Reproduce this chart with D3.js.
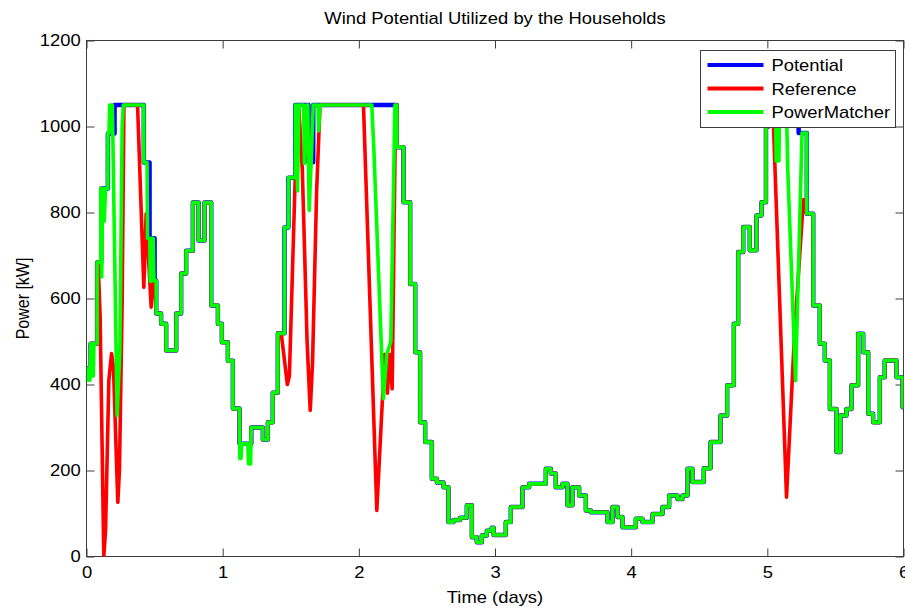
<!DOCTYPE html>
<html>
<head>
<meta charset="utf-8">
<script src="https://cdn.jsdelivr.net/npm/d3@7"></script>
<style>
  body { margin: 0; background: #fff; }
  text { font-family: "Liberation Sans", Arial, sans-serif; }
</style>
</head>
<body>
<div id="chart"></div>
<script>
// ---- data ----
const x_ticks = [0, 1, 2, 3, 4, 5, 6];
const y_ticks = [0, 200, 400, 600, 800, 1000, 1200];
const series_names = ["Potential", "Reference", "PowerMatcher"];
const series_colors = ["#0000ff", "#ff0000", "#00ff00"];

// wind potential: [time (days), kW], value held until next step
const potential_steps = [
  [0, 437], [0.03, 495], [0.078, 684], [0.108, 856], [0.157, 984], [0.206, 1050],
  [0.421, 916], [0.463, 740], [0.5, 642], [0.512, 565], [0.548, 541], [0.585, 479],
  [0.659, 565], [0.695, 658], [0.732, 711], [0.781, 823], [0.823, 735], [0.867, 823],
  [0.916, 584], [0.965, 541], [0.994, 498], [1.038, 455], [1.075, 344], [1.124, 262],
  [1.21, 300], [1.295, 272], [1.332, 312], [1.368, 381], [1.405, 519], [1.454, 765],
  [1.483, 881], [1.533, 1050], [1.63, 917], [1.665, 1050], [2.279, 952], [2.328, 824],
  [2.377, 634], [2.414, 475], [2.45, 312], [2.487, 266], [2.536, 181], [2.573, 172],
  [2.622, 161], [2.658, 80], [2.695, 85], [2.744, 90], [2.793, 119], [2.83, 45],
  [2.866, 33], [2.903, 49], [2.94, 60], [2.976, 67], [2.99, 50], [3.079, 80],
  [3.116, 115], [3.202, 161], [3.251, 169], [3.373, 204], [3.41, 193], [3.446, 161],
  [3.496, 169], [3.532, 119], [3.569, 161], [3.618, 142], [3.667, 107], [3.704, 103],
  [3.826, 80], [3.863, 115], [3.9, 92], [3.936, 68], [4.034, 88], [4.083, 80],
  [4.157, 99], [4.23, 115], [4.279, 142], [4.34, 134], [4.377, 142], [4.414, 204],
  [4.45, 173], [4.533, 205], [4.583, 266], [4.656, 328], [4.705, 398], [4.754, 541],
  [4.786, 708], [4.823, 766], [4.871, 712], [4.92, 793], [4.957, 824], [4.99, 1000],
  [5.01, 1050], [5.23, 985], [5.29, 797], [5.337, 584], [5.385, 495], [5.422, 456],
  [5.459, 343], [5.508, 243], [5.537, 328], [5.581, 343], [5.618, 398], [5.667, 518],
  [5.704, 475], [5.741, 332], [5.777, 312], [5.826, 417], [5.862, 456], [5.949, 417],
  [5.993, 347]
];

// where the reference control falls below the potential
const reference_dips = [
  {from: 0.085, to: 0.285, points: [[0.1, 560], [0.115, 250], [0.127, 0], [0.14, 60], [0.164, 409],
    [0.184, 472], [0.198, 440], [0.23, 126], [0.242, 200], [0.262, 595], [0.275, 1050]]},
  {from: 0.37, to: 0.505, points: [[0.375, 1050], [0.421, 626], [0.438, 797], [0.475, 580], [0.495, 642]]},
  {from: 1.43, to: 1.725, points: [[1.475, 400], [1.49, 420], [1.54, 960], [1.56, 1040], [1.585, 900],
    [1.62, 500], [1.643, 340], [1.66, 450], [1.69, 850], [1.715, 1050]]},
  {from: 2.03, to: 2.275, points: [[2.034, 1050], [2.132, 107], [2.19, 470], [2.21, 380], [2.225, 470],
    [2.245, 390], [2.27, 1050]]},
  {from: 5.035, to: 5.3, points: [[5.04, 1050], [5.141, 138], [5.2, 520], [5.265, 830], [5.285, 800]]}
];

// where the PowerMatcher differs from the potential
const matcher_dips = [
  {from: 0, to: 0.075, points: [[0.012, 437], [0.012, 410], [0.025, 410], [0.03, 495], [0.038, 495],
    [0.04, 420], [0.05, 420], [0.055, 495], [0.07, 495]]},
  {from: 0.1, to: 0.275, points: [[0.105, 684], [0.105, 856], [0.11, 856], [0.112, 650], [0.118, 856],
    [0.13, 780], [0.14, 856], [0.157, 856], [0.157, 984], [0.165, 984], [0.17, 1050], [0.19, 1050],
    [0.225, 328], [0.245, 480], [0.262, 1000], [0.27, 1050]]},
  {from: 0.44, to: 0.505, points: [[0.445, 916], [0.448, 740], [0.465, 740], [0.468, 640], [0.478, 640],
    [0.48, 740], [0.49, 740], [0.495, 642]]},
  {from: 1.12, to: 1.215, points: [[1.124, 344], [1.126, 228], [1.135, 228], [1.14, 262], [1.185, 262],
    [1.19, 215], [1.205, 215], [1.21, 300]]},
  {from: 1.54, to: 1.74, points: [[1.545, 1050], [1.55, 850], [1.56, 1050], [1.595, 1050], [1.6, 914],
    [1.615, 1050], [1.625, 1050], [1.635, 805], [1.65, 917], [1.665, 1050], [1.7, 1050], [1.705, 990],
    [1.715, 1050]]},
  {from: 2.08, to: 2.275, points: [[2.095, 1050], [2.11, 950], [2.18, 367], [2.205, 470], [2.235, 500],
    [2.265, 1050]]},
  {from: 5.05, to: 5.285, points: [[5.06, 1050], [5.065, 920], [5.085, 920], [5.09, 1050], [5.14, 1050],
    [5.15, 900], [5.207, 409], [5.255, 985]]}
];

// ---- helpers ----
function value_at(steps, t){
  let v = steps[0][1];
  steps.forEach(s => { if (s[0] <= t) v = s[1]; });
  return v;
}

function step_vertices(steps, t_end){
  let pts = [];
  steps.forEach((s, i) => {
    if (i > 0) pts.push([s[0], steps[i - 1][1]]);
    pts.push([s[0], s[1]]);
  });
  pts.push([t_end, steps[steps.length - 1][1]]);
  return pts;
}

function with_dips(steps, dips, t_end){
  let base = step_vertices(steps, t_end);
  let out = [];
  let wi = 0;
  let push_dip = w => {
    out.push([w.from, value_at(steps, w.from)]);
    w.points.forEach(p => out.push(p));
    out.push([w.to, value_at(steps, w.to)]);
  };
  base.forEach(p => {
    if (dips.some(w => p[0] >= w.from && p[0] <= w.to)) return;
    while (wi < dips.length && dips[wi].from < p[0]) { push_dip(dips[wi]); wi++; }
    out.push(p);
  });
  while (wi < dips.length) { push_dip(dips[wi]); wi++; }
  return out;
}

function stretch_text(selection, sx){
  // the reference was stretched horizontally, text included
  return selection.attr("transform", function(){
    let prev = d3.select(this).attr("data-t") || "";
    return `${prev} scale(${sx},1)`;
  });
}

// ---- chart ----
const props = {
  width: 905, height: 608,
  margins: {l: 86, r: 2, t: 40, b: 52},
  text_scale: 1.15
};

function draw_chart(elem, props){
  let svg = d3.select(elem).append("svg")
              .attr("width", props.width)
              .attr("height", props.height);

  let x0 = props.margins.l, x1 = props.width - props.margins.r;
  let y0 = props.margins.t, y1 = props.height - props.margins.b;

  let xScale = d3.scaleLinear().domain([0, 6]).range([x0 + 0.5, x1 + 0.5]);
  let yScale = d3.scaleLinear().domain([0, 1200]).range([y1 + 0.5, y0 + 0.5]);
  let yb = yScale(0), yt = yScale(1200);

  svg.append("rect").attr("width", props.width).attr("height", props.height).attr("fill", "#fff");

  // clip for the data lines
  svg.append("clipPath").attr("id", "plot-clip")
     .append("rect").attr("x", xScale(0)).attr("y", yt - 2)
     .attr("width", xScale(6) - xScale(0)).attr("height", yb - yt + 2);

  let axis_color = "#3c3c3c";

  // axes (ticks point inwards, MATLAB-like)
  let gb = svg.append("g").attr("transform", `translate(0,${yb})`)
              .call(d3.axisBottom(xScale).tickValues(x_ticks).tickFormat(d3.format("d"))
                      .tickSize(-8).tickSizeOuter(0).tickPadding(10));
  let gl = svg.append("g").attr("transform", `translate(${xScale(0)},0)`)
              .call(d3.axisLeft(yScale).tickValues(y_ticks).tickFormat(d3.format("d"))
                      .tickSize(-8).tickSizeOuter(0).tickPadding(5));
  let gt = svg.append("g").attr("transform", `translate(0,${yt})`)
              .call(d3.axisTop(xScale).tickValues(x_ticks).tickFormat("").tickSize(-8).tickSizeOuter(0));
  let gr = svg.append("g").attr("transform", `translate(${xScale(6)},0)`)
              .call(d3.axisRight(yScale).tickValues(y_ticks).tickFormat("").tickSize(-8).tickSizeOuter(0));

  [gb, gl, gt, gr].forEach(g => {
    g.attr("color", axis_color).attr("font-family", null).attr("font-size", null);
    g.select(".domain").remove();
    g.selectAll("text").attr("fill", "#000").style("font-size", "16px");
  });
  gb.selectAll(".tick text").call(stretch_text, props.text_scale);
  gl.selectAll(".tick text").call(stretch_text, props.text_scale);

  // box
  svg.append("rect")
     .attr("x", xScale(0)).attr("y", yt)
     .attr("width", xScale(6) - xScale(0)).attr("height", yb - yt)
     .attr("fill", "none").attr("stroke", axis_color).attr("stroke-width", 1);

  // data lines
  let line = d3.line().x(d => xScale(d[0])).y(d => yScale(d[1]));
  let all_series = [
    step_vertices(potential_steps, 6),
    with_dips(potential_steps, reference_dips, 6),
    with_dips(potential_steps, matcher_dips, 6)
  ];
  let widths = [4.5, 3.6, 3.6];

  svg.append("g").attr("clip-path", "url(#plot-clip)")
     .selectAll("path").data(all_series).enter()
     .append("path")
     .attr("d", line)
     .attr("fill", "none")
     .attr("stroke", (d, i) => series_colors[i])
     .attr("stroke-width", (d, i) => widths[i])
     .attr("stroke-linejoin", "round");

  // title + labels
  let mid_x = (xScale(0) + xScale(6)) / 2;
  svg.append("text").attr("data-t", `translate(${mid_x},24)`)
     .attr("text-anchor", "middle").style("font-size", "16px")
     .text("Wind Potential Utilized by the Households")
     .call(stretch_text, props.text_scale);
  svg.append("text").attr("data-t", `translate(${mid_x},603)`)
     .attr("text-anchor", "middle").style("font-size", "16px")
     .text("Time (days)")
     .call(stretch_text, props.text_scale);
  svg.append("text").attr("data-t", `translate(29,${(yt + yb) / 2}) scale(${props.text_scale},1) rotate(-90)`)
     .attr("text-anchor", "middle").style("font-size", "16px")
     .text("Power [kW]")
     .call(stretch_text, 1);

  // legend
  let lg = svg.append("g").attr("transform", "translate(700.5,50.5)");
  lg.append("rect").attr("width", 195).attr("height", 77)
    .attr("fill", "#fff").attr("stroke", axis_color).attr("stroke-width", 1);
  let rows = lg.selectAll("g.row").data(series_names).enter()
               .append("g").attr("class", "row")
               .attr("transform", (d, i) => `translate(0,${14.5 + i * 23.5})`);
  rows.append("line").attr("x1", 7).attr("x2", 63).attr("y1", 0).attr("y2", 0)
      .attr("stroke", (d, i) => series_colors[i]).attr("stroke-width", 4);
  rows.append("text").attr("data-t", "translate(71,6)")
      .style("font-size", "16px").attr("fill", "#000")
      .text(d => d)
      .call(stretch_text, props.text_scale);
}

draw_chart("#chart", props);
</script>
</body>
</html>
